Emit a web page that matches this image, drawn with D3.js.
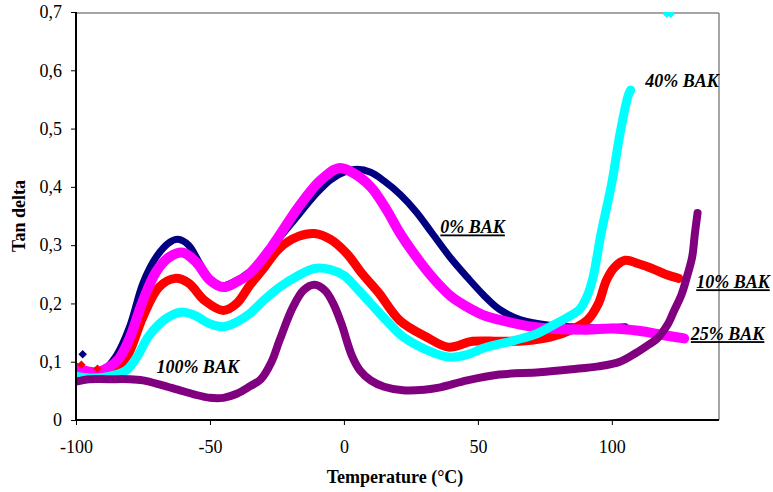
<!DOCTYPE html>
<html>
<head>
<meta charset="utf-8">
<script src="https://cdn.jsdelivr.net/npm/d3@7"></script>
<style>
  body { margin: 0; background: #fff; }
  text { font-family: "Liberation Serif", "Times New Roman", serif; fill: #000; }
  .tick-label { font-size: 18px; }
  .axis-title { font-size: 18px; font-weight: bold; }
  .series-label { font-size: 18px; font-weight: bold; font-style: italic; }
</style>
</head>
<body>
<script>
// tan delta vs temperature, one array of [T, value] per blend
const bak0 = [[-100,0.082],[-95,0.08],[-90,0.085],[-85,0.11],[-80,0.16],[-75,0.235],[-70,0.28],[-65,0.305],[-62,0.31],[-58,0.3],[-54,0.27],[-50,0.24],[-46,0.23],[-42,0.235],[-35,0.255],[-30,0.28],[-20,0.335],[-10,0.39],[-5,0.412],[0,0.425],[5,0.43],[10,0.425],[15,0.41],[21,0.387],[27,0.357],[33,0.32],[40,0.277],[46,0.245],[52,0.215],[58,0.19],[66,0.172],[76,0.163],[85,0.16],[95,0.158],[105,0.16]];
const bak10 = [[-100,0.09],[-96,0.082],[-90,0.08],[-85,0.09],[-81,0.108],[-75,0.177],[-69,0.228],[-63,0.243],[-58,0.235],[-52,0.205],[-45,0.188],[-40,0.2],[-35,0.232],[-30,0.26],[-24,0.295],[-17,0.315],[-11,0.32],[-5,0.31],[1,0.286],[7,0.25],[13,0.218],[21,0.17],[31,0.142],[39,0.125],[48,0.135],[58,0.135],[68,0.136],[77,0.142],[85,0.155],[91,0.172],[95,0.2],[98,0.24],[101,0.262],[105,0.274],[110,0.268],[115,0.26],[120,0.25],[125,0.243]];
const bak25 = [[-100,0.09],[-97,0.085],[-92,0.082],[-88,0.09],[-84,0.105],[-80,0.14],[-75,0.205],[-70,0.255],[-65,0.28],[-60,0.287],[-55,0.27],[-50,0.24],[-45,0.228],[-40,0.237],[-35,0.252],[-27,0.297],[-17,0.365],[-9,0.41],[-2,0.432],[3,0.425],[10,0.4],[16,0.36],[21,0.32],[27,0.28],[33,0.245],[40,0.212],[46,0.194],[52,0.18],[58,0.172],[70,0.16],[90,0.155],[100,0.157],[110,0.153],[120,0.145],[127,0.14]];
const bak40 = [[-100,0.075],[-95,0.072],[-90,0.073],[-85,0.078],[-81,0.086],[-77,0.11],[-73,0.143],[-67,0.172],[-61,0.185],[-56,0.18],[-50,0.165],[-45,0.16],[-40,0.168],[-35,0.183],[-30,0.205],[-24,0.228],[-17,0.248],[-11,0.26],[-5,0.258],[0,0.248],[5,0.225],[10,0.2],[16,0.17],[22,0.143],[31,0.12],[39,0.108],[46,0.112],[52,0.123],[64,0.137],[72,0.148],[77,0.16],[83,0.175],[88,0.19],[91,0.215],[93,0.245],[96,0.32],[100,0.407],[103,0.49],[106,0.555],[107,0.566]];
const bak100 = [[-100,0.066],[-95,0.07],[-88,0.07],[-80,0.07],[-75,0.068],[-68,0.06],[-62,0.052],[-56,0.044],[-50,0.038],[-45,0.038],[-40,0.045],[-35,0.058],[-31,0.07],[-27,0.1],[-24,0.137],[-19,0.194],[-15,0.223],[-11,0.232],[-7,0.222],[-4,0.2],[-1,0.166],[3,0.11],[6,0.085],[10,0.068],[15,0.057],[22,0.051],[30,0.052],[36,0.056],[46,0.068],[58,0.078],[73,0.082],[85,0.087],[95,0.092],[103,0.1],[109,0.115],[114,0.13],[117,0.14],[121,0.165],[123,0.185],[126,0.215],[128,0.245],[130,0.28],[131,0.32],[132,0.355]];

// loose points away from the curves
const strays = [
  {color: '#000080', T: -97.5, v: 0.113},
  {color: '#ff0000', T: -98, v: 0.095},
  {color: '#ff0000', T: -92, v: 0.088},
  {color: '#00ffff', T: 120.5, v: 0.697},
  {color: '#00ffff', T: 122, v: 0.697}
];

const xTicks = [-100, -50, 0, 50, 100];
const yTicks = [0, 0.1, 0.2, 0.3, 0.4, 0.5, 0.6, 0.7];

const series = [
  {name: '0% BAK', data: bak0, color: '#000080', width: 7},
  {name: '10% BAK', data: bak10, color: '#ff0000', width: 9},
  {name: '25% BAK', data: bak25, color: '#ff00ff', width: 10},
  {name: '40% BAK', data: bak40, color: '#00ffff', width: 9},
  {name: '100% BAK', data: bak100, color: '#800080', width: 8}
];

// label anchor points, in data units
const labels = [
  {text: '0% BAK', T: 36, v: 0.32, underline: true},
  {text: '10% BAK', T: 131.5, v: 0.226, underline: true},
  {text: '25% BAK', T: 129.5, v: 0.137, underline: true},
  {text: '40% BAK', T: 112.5, v: 0.571, underline: false},
  {text: '100% BAK', T: -70, v: 0.081, underline: false}
];

let width = 773;
let height = 492;
let plotLeft = 76, plotRight = 719, plotTop = 12, plotBottom = 420;

var svg = d3.select('body').append('svg')
  .attr('width', width)
  .attr('height', height);

var x = d3.scaleLinear().domain([-100, 140]).range([plotLeft, plotRight]);
var y = d3.scaleLinear().domain([0, 0.7]).range([plotBottom, plotTop]);

svg.append('defs').append('clipPath')
  .attr('id', 'plot')
  .append('rect')
  .attr('x', plotLeft)
  .attr('y', plotTop)
  .attr('width', plotRight - plotLeft)
  .attr('height', plotBottom - plotTop);

// frame: grey top and right edges
svg.append('line')
  .attr('x1', plotLeft).attr('x2', plotRight)
  .attr('y1', plotTop + 1).attr('y2', plotTop + 1)
  .attr('stroke', '#888').attr('stroke-width', 1.5);
svg.append('line')
  .attr('x1', plotRight).attr('x2', plotRight)
  .attr('y1', plotTop + 1).attr('y2', plotBottom)
  .attr('stroke', '#888').attr('stroke-width', 1.5);

var line = d3.line()
  .x(d => x(d[0]))
  .y(d => y(d[1]))
  .curve(d3.curveCatmullRom);

var curves = svg.append('g').attr('clip-path', 'url(#plot)');

curves.selectAll('path')
  .data(series)
  .enter()
  .append('path')
  .attr('d', d => line(d.data))
  .attr('fill', 'none')
  .attr('stroke', d => d.color)
  .attr('stroke-width', d => d.width)
  .attr('stroke-linecap', 'round')
  .attr('stroke-linejoin', 'round');

curves.selectAll('rect.stray')
  .data(strays)
  .enter()
  .append('rect')
  .attr('class', 'stray')
  .attr('x', d => x(d.T) - 3)
  .attr('y', d => y(d.v) - 3)
  .attr('width', 6)
  .attr('height', 6)
  .attr('fill', d => d.color)
  .attr('transform', d => `rotate(45, ${x(d.T)}, ${y(d.v)})`);

// axes
var xAxis = svg.append('g')
  .attr('transform', `translate(0, ${plotBottom})`)
  .call(d3.axisBottom(x).tickValues(xTicks).tickSize(5).tickPadding(15).tickFormat(d => String(d)));

var yAxis = svg.append('g')
  .attr('transform', `translate(${plotLeft}, 0)`)
  .call(d3.axisLeft(y).tickValues(yTicks).tickSize(5).tickPadding(9)
    .tickFormat(d => d === 0 ? '0' : d3.format('.1f')(d).replace('.', ',')));

[xAxis, yAxis].forEach(a => {
  a.attr('font-family', null).attr('font-size', null);
  a.select('.domain').attr('stroke', '#000').attr('stroke-width', 2);
  a.selectAll('.tick line').attr('stroke', '#000');
  a.selectAll('.tick text')
    .attr('class', 'tick-label')
    .attr('fill', '#000');
});

xAxis.select('.domain').attr('d', `M${plotLeft},0H${plotRight}`);
yAxis.select('.domain').attr('d', `M0,${plotBottom}V${plotTop}`);

svg.append('text')
  .attr('class', 'axis-title')
  .attr('x', 395)
  .attr('y', 483)
  .attr('text-anchor', 'middle')
  .text('Temperature (°C)');

svg.append('text')
  .attr('class', 'axis-title')
  .attr('transform', 'translate(25, 216) rotate(-90)')
  .attr('text-anchor', 'middle')
  .text('Tan delta');

svg.selectAll('text.series-label')
  .data(labels)
  .enter()
  .append('text')
  .attr('class', 'series-label')
  .attr('x', d => x(d.T))
  .attr('y', d => y(d.v))
  .style('text-decoration', d => d.underline ? 'underline' : null)
  .text(d => d.text);
</script>
</body>
</html>
